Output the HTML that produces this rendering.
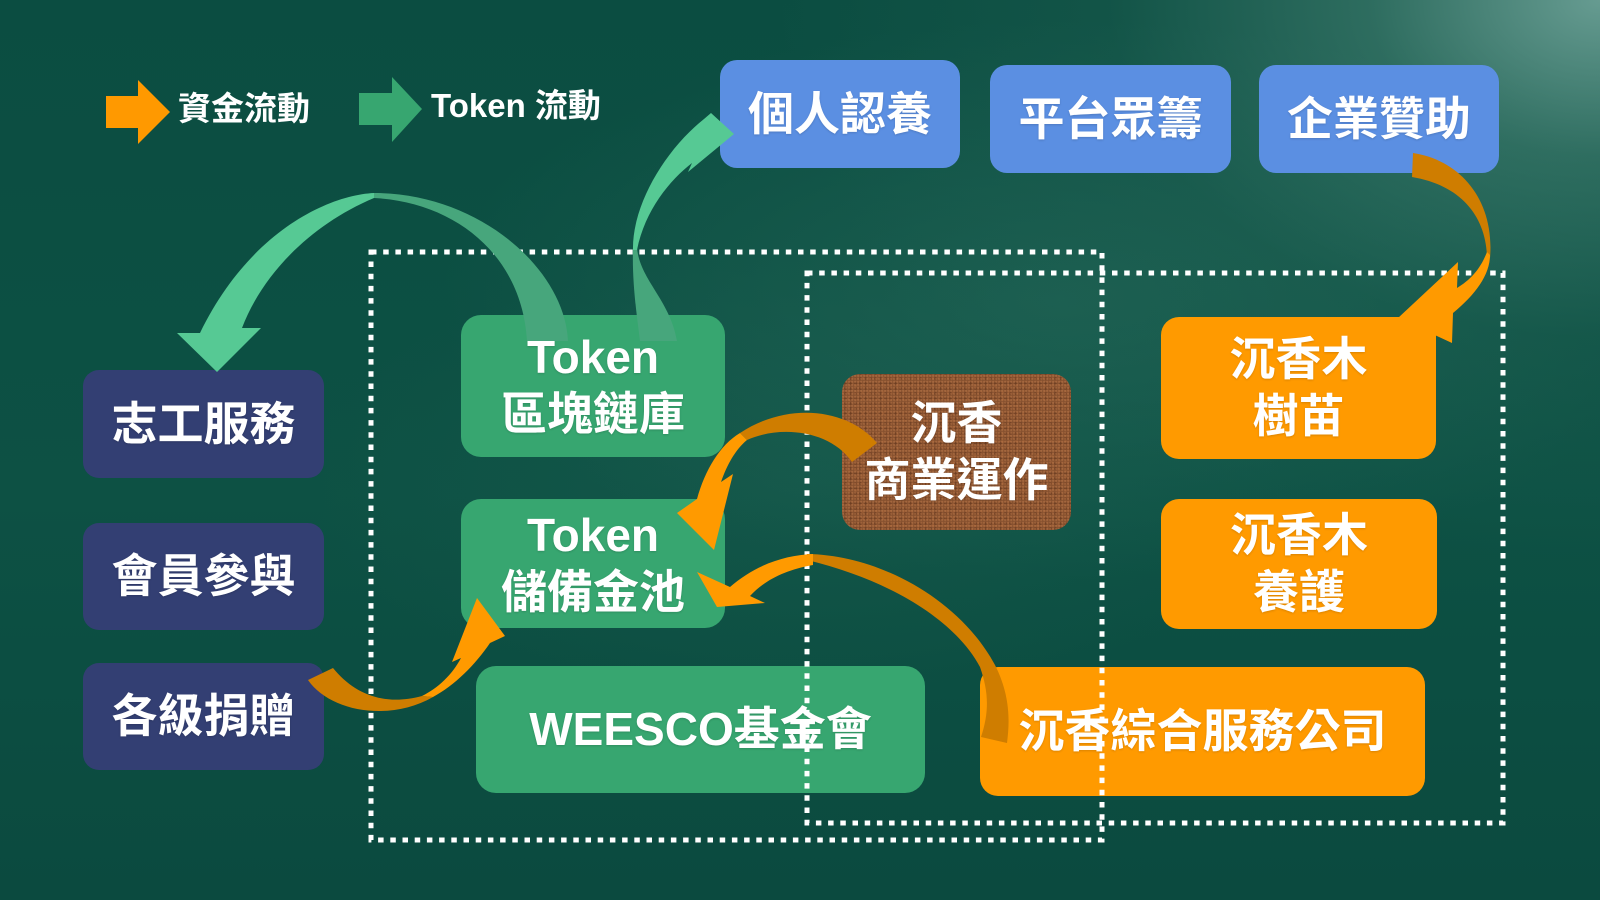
<!DOCTYPE html>
<html>
<head>
<meta charset="utf-8">
<style>
  html,body{margin:0;padding:0;}
  body{width:1600px;height:900px;overflow:hidden;position:relative;
    font-family:"Liberation Sans","Noto Sans CJK TC","Noto Sans CJK SC",sans-serif;
    background:
      radial-gradient(ellipse 820px 560px at 1600px 0px, rgba(125,175,165,0.80) 0%, rgba(80,140,125,0.50) 28%, rgba(40,105,90,0.25) 60%, rgba(12,78,66,0) 100%),
      radial-gradient(ellipse 620px 280px at 1060px 300px, rgba(45,112,96,0.45) 0%, rgba(12,78,66,0) 100%),
      radial-gradient(ellipse 500px 220px at 800px 480px, rgba(35,100,85,0.30) 0%, rgba(12,78,66,0) 100%),
      linear-gradient(180deg,#0b4d41 0%,#0d5144 55%,#0b4a3f 100%);
  }
  .box{position:absolute;display:flex;align-items:center;justify-content:center;flex-direction:column;
    color:#fff;font-weight:700;font-size:46px;line-height:57px;text-align:center;white-space:nowrap;
    text-shadow:0 1px 2px rgba(0,0,0,0.15);}
  .blue{background:#5b8fe2;border-radius:17px;}
  .navy{background:#333f73;border-radius:16px;}
  .green{background:#37a670;border-radius:20px;}
  .orange{background:#ff9a00;border-radius:18px;}
  .brown{border-radius:18px;
    background:
      radial-gradient(circle at 40% 60%, rgba(200,130,80,0.45) 0 0.8px, rgba(0,0,0,0) 1.4px) 0 0/3px 3px,
      radial-gradient(circle at 50% 50%, rgba(60,25,10,0.35) 0 1px, rgba(0,0,0,0) 1.8px) 1px 2px/5px 5px,
      radial-gradient(circle at 50% 50%, rgba(170,100,55,0.35) 0 1.2px, rgba(0,0,0,0) 2px) 3px 1px/7px 7px,
      #87512f;}
  .legend{position:absolute;color:#fff;font-weight:700;font-size:33px;line-height:36px;white-space:nowrap;}
  svg{position:absolute;left:0;top:0;}
</style>
</head>
<body>

<!-- Legend -->
<div class="legend" style="left:178px;top:91px;">資金流動</div>
<div class="legend" style="left:431px;top:88px;">Token 流動</div>

<!-- Top blue boxes -->
<div class="box blue" style="left:720px;top:60px;width:240px;height:108px;">個人認養</div>
<div class="box blue" style="left:990px;top:65px;width:241px;height:108px;">平台眾籌</div>
<div class="box blue" style="left:1259px;top:65px;width:240px;height:108px;">企業贊助</div>

<!-- Left navy boxes -->
<div class="box navy" style="left:83px;top:370px;width:241px;height:108px;">志工服務</div>
<div class="box navy" style="left:83px;top:523px;width:241px;height:107px;">會員參與</div>
<div class="box navy" style="left:83px;top:663px;width:241px;height:107px;">各級捐贈</div>

<!-- Green boxes -->
<div class="box green" style="left:461px;top:315px;width:264px;height:142px;"><div>Token</div><div>區塊鏈庫</div></div>
<div class="box green" style="left:461px;top:499px;width:264px;height:129px;"><div>Token</div><div>儲備金池</div></div>
<div class="box green" style="left:476px;top:666px;width:449px;height:127px;">WEESCO基金會</div>

<!-- Brown box -->
<div class="box brown" style="left:842px;top:374px;width:229px;height:156px;"><div>沉香</div><div>商業運作</div></div>

<!-- Orange boxes -->
<div class="box orange" style="left:1161px;top:317px;width:275px;height:142px;"><div>沉香木</div><div>樹苗</div></div>
<div class="box orange" style="left:1161px;top:499px;width:276px;height:130px;"><div>沉香木</div><div>養護</div></div>
<div class="box orange" style="left:980px;top:667px;width:445px;height:129px;">沉香綜合服務公司</div>

<svg width="1600" height="900" viewBox="0 0 1600 900" xmlns="http://www.w3.org/2000/svg">
  <!-- Legend arrows -->
  <polygon points="106,96 138,96 138,80 170,112 138,144 138,128 106,128" fill="#ff9900"/>
  <polygon points="359,93 392,93 392,77 422,109 392,142 392,125 359,125" fill="#37a670"/>

  <!-- Dotted rectangles -->
  <rect x="371" y="252" width="731" height="588" fill="none" stroke="#ffffff" stroke-width="5" stroke-dasharray="5.5 6.7"/>
  <rect x="807" y="273" width="696" height="550" fill="none" stroke="#ffffff" stroke-width="5" stroke-dasharray="5.5 6.7"/>

  <!-- Green arrow 1: Token 區塊鏈庫 -> 志工服務 -->
  <path d="M527,341 L568,341 C565,270 480,193 374,193 L374,198 C455,202 522,255 527,341 Z" fill="#47a67c"/>
  <path d="M374,193 C330,195 250,230 200,333 L177,333 L217,372 L261,328 L242,328 C262,275 310,225 374,198 Z" fill="#56c994"/>

  <!-- Green arrow 2: Token 區塊鏈庫 -> 個人認養 -->
  <path d="M640,341 C636,310 632,280 633,248 L637,248 C640,280 670,300 677,341 Z" fill="#47a67c"/>
  <path d="M633,250 C632,205 665,150 704,119 L711,113 L734,134 L688,172 L692,163 C670,180 645,210 637,250 Z" fill="#56c994"/>

  <!-- Orange arrow 3: 企業贊助 -> 沉香木樹苗 -->
  <path d="M1413,153 C1460,160 1495,200 1490,258 L1487,255 C1485,215 1460,185 1412,177 Z" fill="#cf7d00"/>
  <path d="M1487,252 C1480,270 1470,280 1457,288 L1458,262 L1398,318 L1452,343 L1453,313 C1475,295 1490,275 1490,255 Z" fill="#ff9a00"/>

  <!-- Orange arrow 4: 商業運作 -> Token 儲備金池 -->
  <path d="M877,443 C850,410 790,400 740,433 L747,440 C780,425 830,430 852,462 Z" fill="#cf7d00"/>
  <path d="M740,433 C720,445 705,470 697,499 L677,513 L714,550 L733,474 L721,482 C727,465 735,450 747,440 Z" fill="#ff9a00"/>

  <!-- Orange arrow 5: 沉香綜合服務公司 -> Token 儲備金池 -->
  <path d="M807,554 C880,555 960,600 995,665 C1010,695 1010,720 1007,743 L981,737 C990,710 988,690 980,667 C955,620 890,580 807,560 Z" fill="#cf7d00"/>
  <path d="M813,554 C785,555 755,565 730,587 L697,572 L717,607 L765,603 L750,596 C765,580 785,570 813,565 Z" fill="#ff9a00"/>

  <!-- Orange arrow 6: 各級捐贈 -> Token 儲備金池 -->
  <path d="M308,680 C330,712 390,722 433,697 L422,696 C385,706 355,695 333,668 Z" fill="#cf7d00"/>
  <path d="M422,696 C438,688 452,675 461,658 L452,662 L477,598 L505,636 L490,643 C475,665 455,685 433,697 Z" fill="#ff9a00"/>
</svg>

</body>
</html>
